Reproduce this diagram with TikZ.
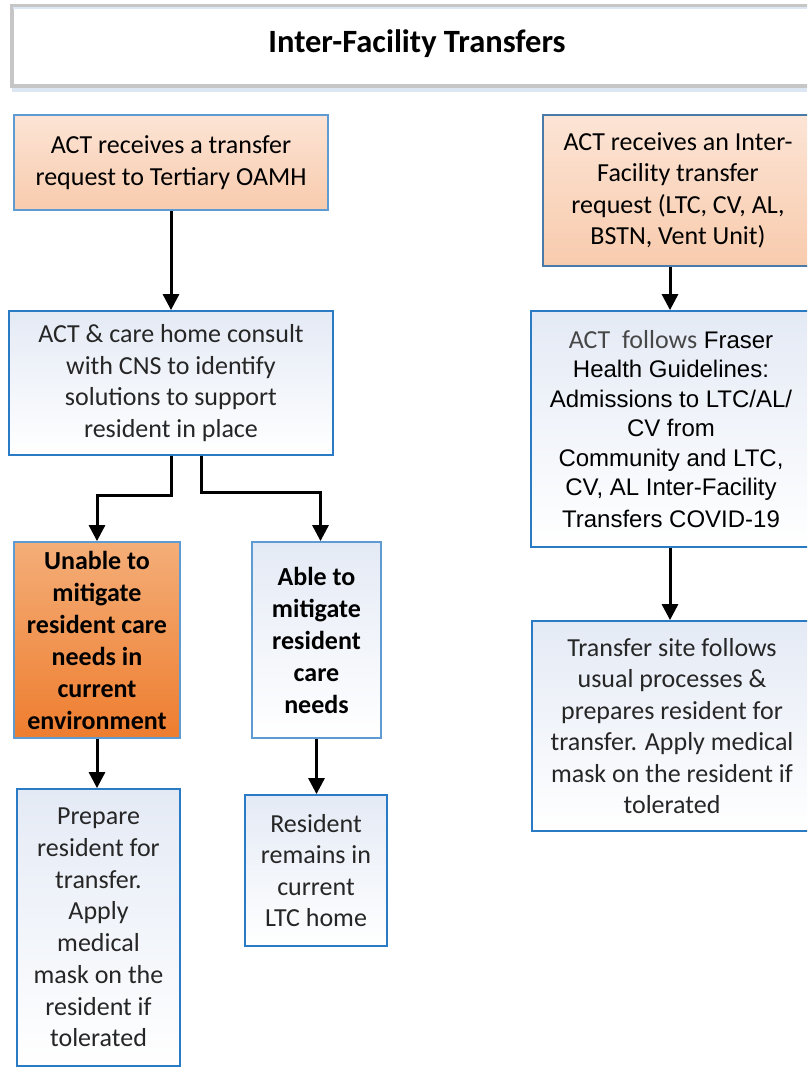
\documentclass[tikz,border=0pt]{standalone}
\usepackage{fontspec}
\setmainfont{Carlito}
\newfontfamily\arialfont{Liberation Sans}
\usetikzlibrary{arrows.meta,positioning}

\definecolor{peachtop}{HTML}{FCE4D5}
\definecolor{peachbot}{HTML}{F8CBAD}
\definecolor{orangetop}{HTML}{F4AE78}
\definecolor{orangebot}{HTML}{EE7D2F}
\definecolor{lighttop}{HTML}{E4EAF5}
\definecolor{peachedge}{HTML}{5F9BD3}
\definecolor{boxedge}{HTML}{2A7BC6}
\definecolor{darkedge}{HTML}{4A7AA8}
\definecolor{textgray}{HTML}{262626}
\definecolor{titlegray}{HTML}{C6C6C6}
\definecolor{titleblue}{HTML}{DCE7F3}

\tikzset{
    flowbox/.style={draw=boxedge, line width=1.8pt, top color=lighttop, bottom color=white,
        text=textgray, align=center, inner sep=0pt, font=\fontsize{26}{31.5}\selectfont},
    peachbox/.style={flowbox, draw=peachedge, top color=peachtop, bottom color=peachbot, text=black},
    orangebox/.style={flowbox, draw=peachedge, top color=orangetop, bottom color=orangebot,
        text=black, font=\bfseries\fontsize{26}{32}\selectfont},
    boldbox/.style={flowbox, draw=peachedge, text=black, font=\bfseries\fontsize{26}{32}\selectfont},
    arr/.style={line width=3pt, -{Triangle[width=16pt,length=16pt]}},
}

\begin{document}
\begin{tikzpicture}[x=1pt, y=-1pt]
    \useasboundingbox (0,0) rectangle (807,1071);
    \clip (0,0) rectangle (807,1071);

    % title banner
    \draw[titleblue, line width=5pt] (12,89) -- (807,89);
    \node[draw=titlegray, line width=4pt, fill=white, minimum width=812pt, minimum height=80pt,
        anchor=north west] (title) at (10,4) {};
    \draw[titleblue, line width=2pt] (13,8) -- (807,8);
    \node[font=\bfseries\fontsize{32.5}{38}\selectfont] (titletext) at (417,44) {Inter-Facility Transfers};

    % left branch
    \node[peachbox, minimum width=314pt, minimum height=95pt] (request) at (171,162.5)
        {ACT receives a transfer\\request to Tertiary OAMH};
    \node[flowbox, minimum width=324pt, minimum height=144pt] (consult) at (171,383)
        {ACT \& care home consult\\with CNS to identify\\solutions to support\\resident in place};
    \node[orangebox, minimum width=166pt, minimum height=196pt] (unable) at (97,640)
        {Unable to\\mitigate\\resident care\\needs in\\current\\environment};
    \node[boldbox, minimum width=129pt, minimum height=196pt] (able) at (316.5,640)
        {Able to\\mitigate\\resident\\care\\needs};
    \node[flowbox, minimum width=163pt, minimum height=277pt, font=\fontsize{26}{31.7}\selectfont] (prepare) at (98.5,927.5)
        {Prepare\\resident for\\transfer.\\Apply\\medical\\mask on the\\resident if\\tolerated};
    \node[flowbox, minimum width=142pt, minimum height=151pt] (remains) at (316,870.5)
        {Resident\\remains in\\current\\LTC home};

    % right branch
    \node[peachbox, draw=darkedge, minimum width=270pt, minimum height=151pt] (interreq) at (678,190.5)
        {ACT receives an Inter-\\Facility transfer\\request (LTC, CV, AL,\\BSTN, Vent Unit)};
    \node[flowbox, minimum width=280pt, minimum height=236pt, text=black,
        font=\arialfont\fontsize{24}{29.5}\selectfont] (guide) at (671,429)
        {{\fontspec{Carlito}\fontsize{26}{29.5}\selectfont\color{textgray!85}ACT\ \ follows} Fraser\\Health Guidelines:\\Admissions to LTC/AL/\\CV from\\Community and LTC,\\CV, AL Inter-Facility\\[2pt]Transfers COVID-19};
    \node[flowbox, minimum width=280pt, minimum height=210pt] (site) at (672,726)
        {Transfer site follows\\usual processes \&\\prepares resident for\\transfer. Apply medical\\mask on the resident if\\tolerated};

    % connectors
    \draw[arr] (request.south) -- (consult.north);
    \draw[arr] (consult.south) -- ++(0,40) -| (unable.north);
    \draw[arr] ([xshift=30pt]consult.south) -- ++(0,37) -| ([xshift=4pt]able.north);
    \draw[arr] (unable.south) -- (unable.south |- prepare.north);
    \draw[arr] (able.south) -- (able.south |- remains.north);
    \draw[arr] ([xshift=-8pt]interreq.south) -- ([xshift=-8pt]interreq.south |- guide.north);
    \draw[arr] ([xshift=-1pt]guide.south) -- ([xshift=-1pt]guide.south |- site.north);
\end{tikzpicture}
\end{document}
